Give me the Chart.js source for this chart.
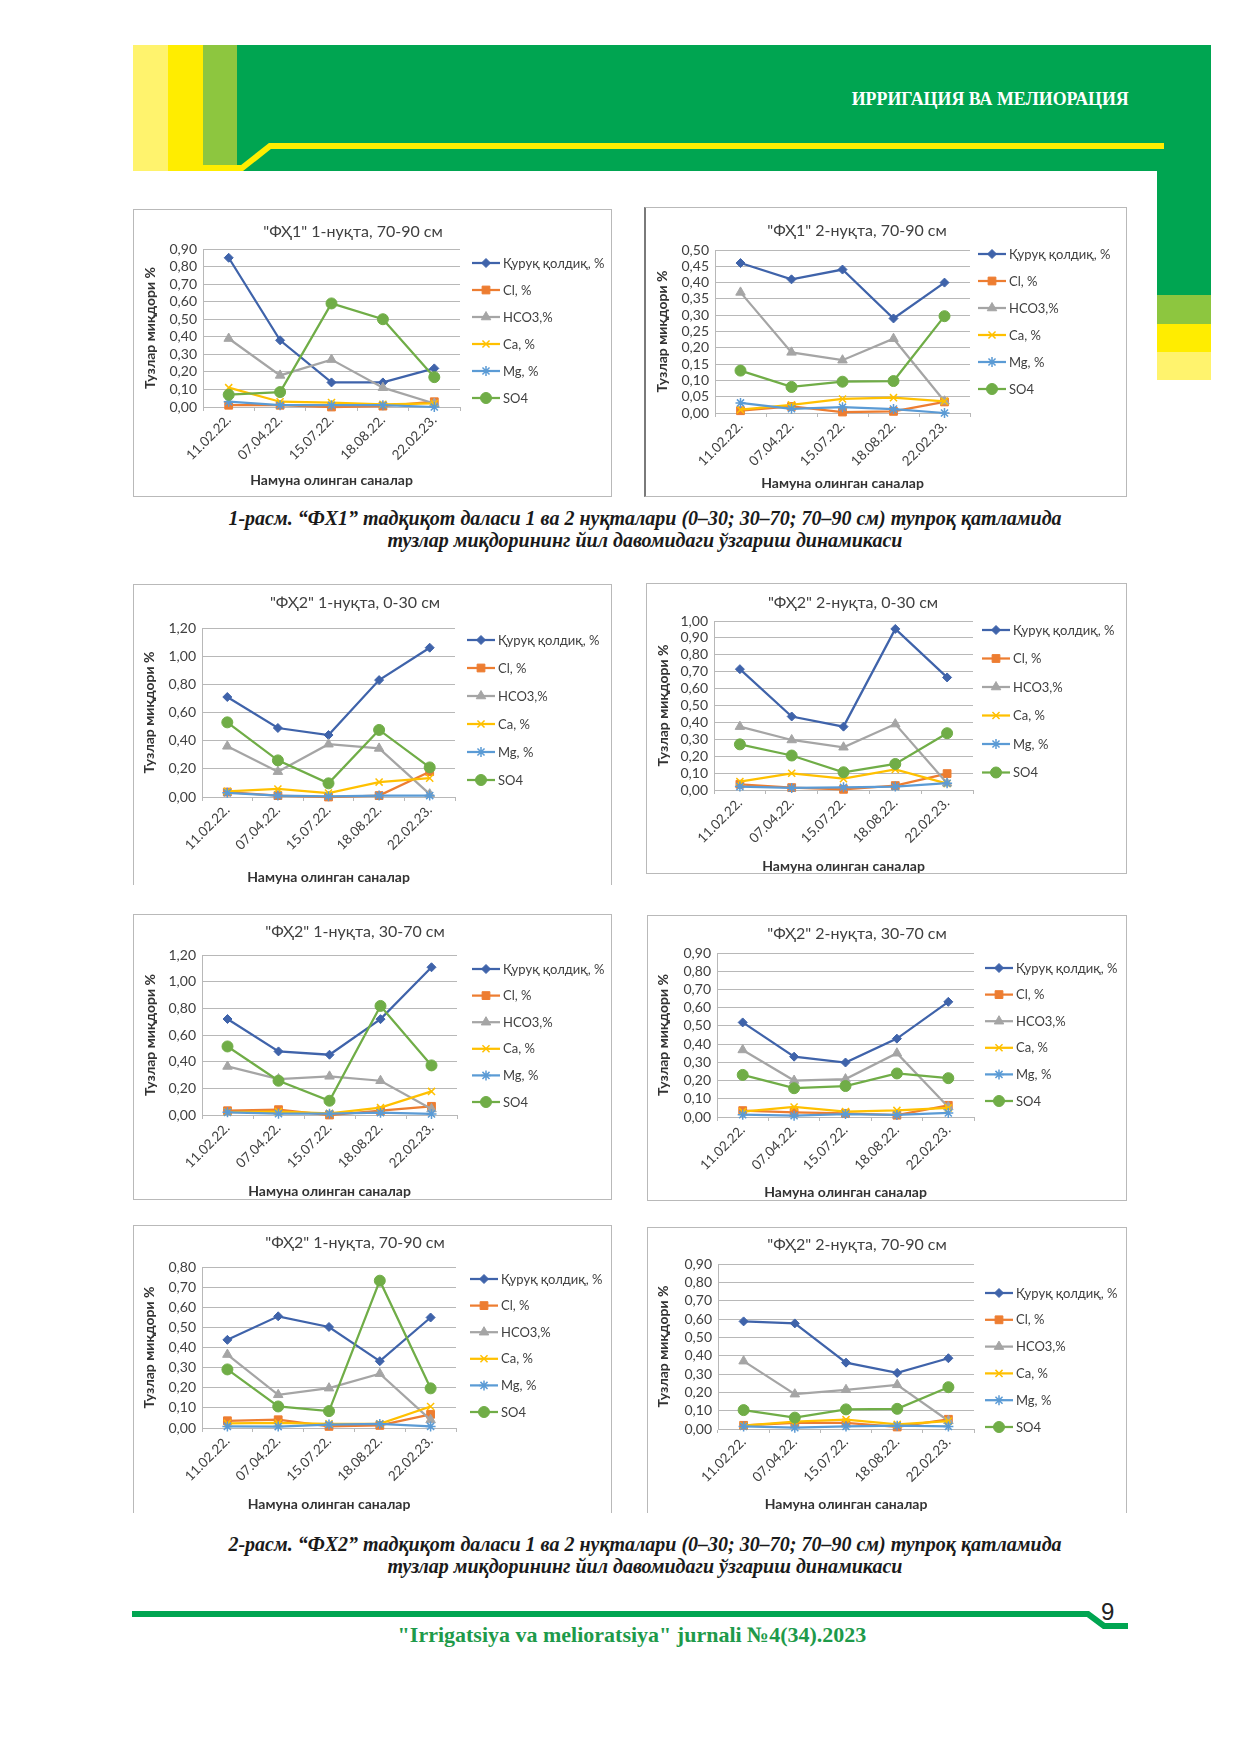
<!DOCTYPE html>
<html lang="uz">
<head>
<meta charset="utf-8">
<title>Тузлар миқдори динамикаси</title>
<script src="https://cdn.jsdelivr.net/npm/chart.js"></script>
<style>
  html, body { margin: 0; padding: 0; background: #fff; }
  body { width: 1241px; height: 1755px; position: relative; overflow: hidden; }
  .blk { position: absolute; }
  .chart { position: absolute; }
  .frame { position: absolute; box-sizing: border-box; border: 1px solid #b9b9b9; pointer-events: none; }
  .head { position: absolute; right: 112px; top: 88px; color: #fff; font: bold 19px "Liberation Serif", serif;
          transform: scaleX(0.94); transform-origin: right center; white-space: nowrap; }
  .caption { position: absolute; left: 145px; width: 1000px; text-align: center; color: #1a1a1a;
             font: italic bold 20px/22px "Liberation Serif", serif; white-space: nowrap; }
  .journal { position: absolute; left: 132px; width: 1000px; top: 1622px; text-align: center; color: #1e9a4a;
             font: bold 22px "Liberation Serif", serif; white-space: nowrap; }
  .pagenum { position: absolute; left: 1101px; top: 1598px; font: 24px "Liberation Sans", sans-serif; color: #222; }
</style>
</head>
<body>

<!-- header band -->
<div class="blk" style="left:133px;top:45px;width:35px;height:126px;background:#fff36d"></div>
<div class="blk" style="left:168px;top:45px;width:35px;height:126px;background:#ffed00"></div>
<div class="blk" style="left:203px;top:45px;width:34px;height:126px;background:#8dc63f"></div>
<div class="blk" style="left:237px;top:45px;width:974px;height:126px;background:#00a551"></div>
<div class="blk" style="left:1157px;top:171px;width:54px;height:124px;background:#00a551"></div>
<div class="blk" style="left:1157px;top:295px;width:54px;height:29px;background:#8dc63f"></div>
<div class="blk" style="left:1157px;top:324px;width:54px;height:28px;background:#ffed00"></div>
<div class="blk" style="left:1157px;top:352px;width:54px;height:28px;background:#fff36d"></div>
<svg class="blk" style="left:0;top:0" width="1241" height="200">
  <polyline points="203,168 242,168 270,146 1164,146" fill="none" stroke="#ffed00" stroke-width="6"/>
</svg>
<div class="head">ИРРИГАЦИЯ ВА МЕЛИОРАЦИЯ</div>

<!-- charts -->
<canvas id="c0" class="chart"></canvas><div id="f0" class="frame"></div>
<canvas id="c1" class="chart"></canvas><div id="f1" class="frame"></div>
<canvas id="c2" class="chart"></canvas><div id="f2" class="frame"></div>
<canvas id="c3" class="chart"></canvas><div id="f3" class="frame"></div>
<canvas id="c4" class="chart"></canvas><div id="f4" class="frame"></div>
<canvas id="c5" class="chart"></canvas><div id="f5" class="frame"></div>
<canvas id="c6" class="chart"></canvas><div id="f6" class="frame"></div>
<canvas id="c7" class="chart"></canvas><div id="f7" class="frame"></div>

<div class="caption" style="top:507px">1-расм. “ФХ1” тадқиқот даласи 1 ва 2 нуқталари (0–30; 30–70; 70–90 см) тупроқ қатламида<br>тузлар миқдорининг йил давомидаги ўзгариш динамикаси</div>
<div class="caption" style="top:1533px">2-расм. “ФХ2” тадқиқот даласи 1 ва 2 нуқталари (0–30; 30–70; 70–90 см) тупроқ қатламида<br>тузлар миқдорининг йил давомидаги ўзгариш динамикаси</div>

<!-- footer -->
<svg class="blk" style="left:0;top:1590px" width="1241" height="60">
  <polyline points="132,24 1088,24 1104,36 1128,36" fill="none" stroke="#00a551" stroke-width="6"/>
</svg>
<div class="pagenum">9</div>
<div class="journal">"Irrigatsiya va melioratsiya" jurnali №4(34).2023</div>

<script>
// ---- data ----
const dates = ['11.02.22.', '07.04.22.', '15.07.22.', '18.08.22.', '22.02.23.'];
const seriesNames = ['Қуруқ қолдиқ, %', 'Cl, %', 'HCO3,%', 'Ca, %', 'Mg, %', 'SO4'];
const chartTitles = [
  '"ФҲ1" 1-нуқта, 70-90 см', '"ФҲ1" 2-нуқта, 70-90 см',
  '"ФҲ2" 1-нуқта, 0-30 см', '"ФҲ2" 2-нуқта, 0-30 см',
  '"ФҲ2" 1-нуқта, 30-70 см', '"ФҲ2" 2-нуқта, 30-70 см',
  '"ФҲ2" 1-нуқта, 70-90 см', '"ФҲ2" 2-нуқта, 70-90 см'
];
const yMax  = [0.9, 0.5, 1.2, 1.0, 1.2, 0.9, 0.8, 0.9];
const yStep = [0.1, 0.05, 0.2, 0.1, 0.2, 0.1, 0.1, 0.1];

// rows: quruq qoldiq, Cl, HCO3, Ca, Mg, SO4
const fx1_p1_70_90 = [
  [0.85, 0.38, 0.14, 0.14, 0.22],
  [0.01, 0.01, 0.00, 0.005, 0.03],
  [0.39, 0.18, 0.27, 0.11, 0.02],
  [0.11, 0.03, 0.025, 0.015, 0.02],
  [0.03, 0.01, 0.01, 0.01, 0.00],
  [0.07, 0.085, 0.59, 0.50, 0.17]
];
const fx1_p2_70_90 = [
  [0.46, 0.41, 0.44, 0.29, 0.40],
  [0.007, 0.02, 0.003, 0.005, 0.034],
  [0.37, 0.186, 0.162, 0.228, 0.036],
  [0.01, 0.025, 0.043, 0.047, 0.036],
  [0.031, 0.013, 0.018, 0.012, 0.0],
  [0.13, 0.08, 0.096, 0.098, 0.297]
];
const fx2_p1_0_30 = [
  [0.71, 0.49, 0.44, 0.83, 1.06],
  [0.035, 0.01, 0.0, 0.01, 0.18],
  [0.36, 0.18, 0.375, 0.345, 0.02],
  [0.04, 0.057, 0.028, 0.106, 0.134],
  [0.03, 0.01, 0.005, 0.01, 0.01],
  [0.53, 0.26, 0.097, 0.476, 0.21]
];
const fx2_p2_0_30 = [
  [0.715, 0.435, 0.375, 0.953, 0.666],
  [0.034, 0.014, 0.004, 0.026, 0.097],
  [0.375, 0.296, 0.253, 0.39, 0.04],
  [0.05, 0.099, 0.067, 0.122, 0.038],
  [0.02, 0.012, 0.016, 0.02, 0.04],
  [0.27, 0.204, 0.105, 0.154, 0.336]
];
const fx2_p1_30_70 = [
  [0.72, 0.477, 0.452, 0.719, 1.108],
  [0.032, 0.04, 0.0, 0.032, 0.065],
  [0.364, 0.27, 0.29, 0.257, 0.045],
  [0.022, 0.025, 0.012, 0.055, 0.177],
  [0.02, 0.01, 0.01, 0.017, 0.008],
  [0.514, 0.257, 0.107, 0.818, 0.372]
];
const fx2_p2_30_70 = [
  [0.519, 0.331, 0.299, 0.43, 0.632],
  [0.035, 0.025, 0.02, 0.01, 0.064],
  [0.368, 0.2, 0.208, 0.35, 0.055],
  [0.03, 0.055, 0.03, 0.036, 0.05],
  [0.013, 0.007, 0.016, 0.011, 0.022],
  [0.231, 0.158, 0.17, 0.239, 0.213]
];
const fx2_p1_70_90 = [
  [0.438, 0.555, 0.502, 0.332, 0.549],
  [0.036, 0.041, 0.008, 0.013, 0.068],
  [0.365, 0.165, 0.198, 0.27, 0.04],
  [0.023, 0.025, 0.021, 0.021, 0.107],
  [0.008, 0.007, 0.017, 0.02, 0.008],
  [0.291, 0.107, 0.084, 0.732, 0.197]
];
const fx2_p2_70_90 = [
  [0.587, 0.576, 0.362, 0.306, 0.386],
  [0.02, 0.033, 0.033, 0.011, 0.053],
  [0.37, 0.19, 0.214, 0.241, 0.045],
  [0.018, 0.04, 0.051, 0.025, 0.043],
  [0.014, 0.007, 0.014, 0.018, 0.014],
  [0.103, 0.062, 0.107, 0.11, 0.228]
];
const chartData = [fx1_p1_70_90, fx1_p2_70_90, fx2_p1_0_30, fx2_p2_0_30,
                   fx2_p1_30_70, fx2_p2_30_70, fx2_p1_70_90, fx2_p2_70_90];

// ---- placement of every chart box on the page ----
const frames = [
  { x: 133, y: 209,  w: 479, h: 288, pl: 70, pr: 327, pt: 40, pb: 198, tx: 220, ty: 23, lx: 339, ly: 54, lg: 27,   xt: 271, yt: 17, sides: '1px 1px 1px 1px' },
  { x: 644, y: 207,  w: 483, h: 290, pl: 71, pr: 326, pt: 43, pb: 206, tx: 213, ty: 24, lx: 334, ly: 47, lg: 27,   xt: 276, yt: 18, sides: '1px 1px 1px 2px', dark: true },
  { x: 133, y: 584,  w: 479, h: 301, pl: 69, pr: 322, pt: 44, pb: 213, tx: 222, ty: 19, lx: 334, ly: 56, lg: 28,   xt: 293, yt: 16, sides: '1px 1px 0 1px' },
  { x: 646, y: 583,  w: 481, h: 291, pl: 68, pr: 327, pt: 38, pb: 207, tx: 207, ty: 20, lx: 336, ly: 47, lg: 28.5, xt: 283, yt: 17, sides: '1px 1px 1px 1px' },
  { x: 133, y: 914,  w: 479, h: 286, pl: 69, pr: 324, pt: 41, pb: 201, tx: 222, ty: 18, lx: 339, ly: 55, lg: 26.6, xt: 277, yt: 17, sides: '1px 1px 1px 1px' },
  { x: 647, y: 915,  w: 480, h: 286, pl: 70, pr: 327, pt: 38, pb: 202, tx: 210, ty: 19, lx: 338, ly: 53, lg: 26.6, xt: 277, yt: 16, sides: '1px 1px 1px 1px' },
  { x: 133, y: 1225, w: 479, h: 288, pl: 69, pr: 323, pt: 42, pb: 203, tx: 222, ty: 18, lx: 337, ly: 54, lg: 26.6, xt: 279, yt: 16, sides: '1px 1px 0 1px' },
  { x: 647, y: 1227, w: 480, h: 286, pl: 71, pr: 327, pt: 37, pb: 202, tx: 210, ty: 18, lx: 338, ly: 66, lg: 26.8, xt: 277, yt: 16, sides: '1px 1px 0 1px' }
];

const COLORS = ['#3f63aa', '#ed7d31', '#a5a5a5', '#ffc000', '#5b9bd5', '#70ad47'];
const MARKERS = ['rectRot', 'rect', 'triangle', 'crossRot', 'star', 'circle'];
const RADII = [4.5, 5.5, 5.5, 5, 5, 5.5];
const GRID = '#b8b8b8';
const TEXT = '#404040';

Chart.defaults.font.family = 'Lato';

// chart title (placed where Excel put it) and Excel-style legend: short line with marker
const sideLegend = {
  id: 'sideLegend',
  afterDraw(chart, args, opts) {
    const ctx = chart.ctx;
    ctx.save();
    ctx.fillStyle = TEXT;
    ctx.font = '16px Lato';
    ctx.textAlign = 'center';
    ctx.textBaseline = 'middle';
    ctx.fillText(opts.title, opts.tx, opts.ty);

    chart.data.datasets.forEach((ds, i) => {
      const y = opts.top + i * opts.gap;
      ctx.strokeStyle = ds.borderColor;
      ctx.fillStyle = ds.borderColor;
      ctx.lineWidth = 2.25;
      ctx.beginPath();
      ctx.moveTo(opts.x, y);
      ctx.lineTo(opts.x + 28, y);
      ctx.stroke();
      ctx.lineWidth = ds.pointBorderWidth;
      Chart.helpers.drawPoint(ctx, { pointStyle: ds.pointStyle, radius: ds.pointRadius, borderWidth: ds.pointBorderWidth, rotation: 0 }, opts.x + 14, y);
      ctx.fillStyle = TEXT;
      ctx.font = '13px Lato';
      ctx.textBaseline = 'middle';
      ctx.textAlign = 'left';
      ctx.fillText(ds.label, opts.x + 31, y + 0.5);
    });
    ctx.restore();
  }
};

function makeDatasets(rows) {
  return rows.map((vals, i) => ({
    label: seriesNames[i],
    data: vals,
    borderColor: COLORS[i],
    backgroundColor: COLORS[i],
    borderWidth: 2.25,
    pointStyle: MARKERS[i],
    pointRadius: RADII[i],
    pointBorderWidth: (i === 3 || i === 4) ? 1.5 : 1,
    pointBackgroundColor: COLORS[i],
    pointBorderColor: COLORS[i],
    tension: 0,
    clip: false,
    order: rows.length - i
  }));
}

function createChart(k) {
  const f = frames[k];
  const canvas = document.getElementById('c' + k);
  canvas.width = f.w;
  canvas.height = f.h;
  canvas.style.left = f.x + 'px';
  canvas.style.top = f.y + 'px';

  const frame = document.getElementById('f' + k);
  Object.assign(frame.style, { left: f.x + 'px', top: f.y + 'px', width: f.w + 'px', height: f.h + 'px', borderWidth: f.sides });
  if (f.dark) frame.style.borderLeftColor = '#7a7a7a';

  new Chart(canvas, {
    type: 'line',
    data: { labels: dates, datasets: makeDatasets(chartData[k]) },
    plugins: [sideLegend],
    options: {
      responsive: false,
      animation: false,
      events: [],
      layout: { padding: { left: 0, top: f.pt, right: f.w - f.pr, bottom: 0 } },
      plugins: {
        legend: { display: false },
        tooltip: { enabled: false },
        title: { display: false },
        sideLegend: { x: f.lx, top: f.ly, gap: f.lg, title: chartTitles[k], tx: f.tx, ty: f.ty }
      },
      scales: {
        x: {
          offset: true,
          grid: { drawOnChartArea: false, drawTicks: true, tickLength: 4, offset: true, color: GRID },
          border: { color: GRID },
          ticks: { minRotation: 45, maxRotation: 45, autoSkip: false, padding: 1, color: TEXT, font: { size: 13.5 } },
          title: {
            display: true,
            text: 'Намуна олинган саналар',
            color: '#333',
            font: { size: 14, weight: 'bold' },
            padding: { top: 0, bottom: f.h - f.xt - 8.4 }
          },
          afterFit(s) { s.height = f.h - f.pb; }
        },
        y: {
          min: 0,
          max: yMax[k],
          ticks: {
            stepSize: yStep[k],
            autoSkip: false,
            padding: 6,
            color: TEXT,
            font: { size: 14 },
            callback: (v) => v.toFixed(2).replace('.', ',')
          },
          grid: { color: GRID, drawTicks: false },
          border: { color: GRID },
          title: {
            display: true,
            text: 'Тузлар миқдори %',
            color: '#333',
            font: { size: 14, weight: 'bold' },
            padding: { top: f.yt - 8.4, bottom: 0 }
          },
          afterFit(s) { s.width = f.pl; }
        }
      }
    }
  });
}

chartData.forEach((rows, k) => createChart(k));
</script>
</body>
</html>
